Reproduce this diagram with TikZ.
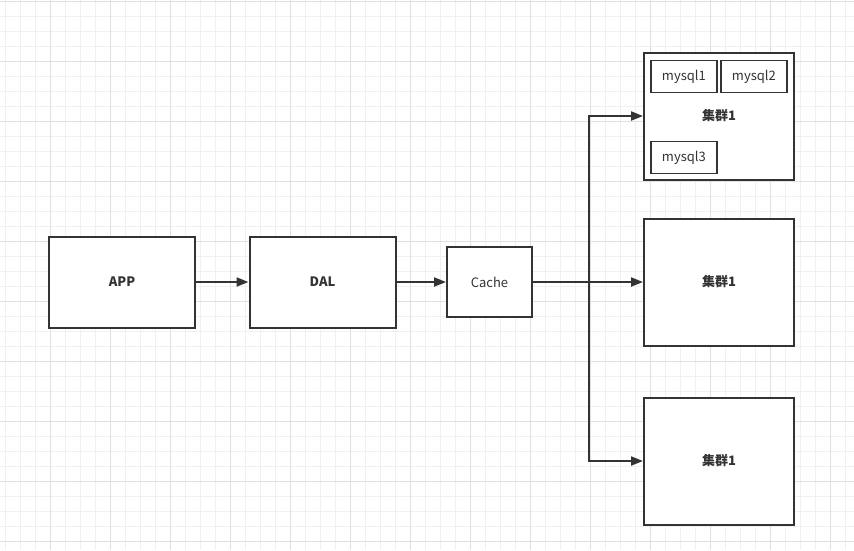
\documentclass[tikz,border=0pt]{standalone}
\usepackage{fontspec}
\setmainfont{Noto Sans CJK SC}
\usetikzlibrary{positioning,arrows.meta}
\definecolor{linegray}{HTML}{333333}
\definecolor{gridminor}{HTML}{F0F0F0}
\definecolor{gridmajor}{HTML}{E0E0E0}
\tikzset{
  box/.style={draw=linegray, line width=2pt, fill=white, text=linegray,
    font=\bfseries\fontsize{13}{15}\selectfont}, % the big boxes
  plainbox/.style={draw=linegray, line width=2pt, fill=white, text=linegray,
    font=\fontsize{13}{15}\selectfont},
  dbbox/.style={plainbox, line width=1.8pt, minimum width=66pt, minimum height=32pt},
  link/.style={draw=linegray, line width=2pt, -{Triangle[length=12pt,width=9pt]}},
}

\begin{document}
\begin{tikzpicture}[x=1pt,y=-1pt,on grid,auto]
    \useasboundingbox (0,0) rectangle (854,550);
    % background grid
    \foreach \gx in {5,20,...,850} \draw[gridminor, line width=0.8pt] (\gx,0) -- (\gx,550);
    \foreach \gy in {1,16,...,550} \draw[gridminor, line width=0.8pt] (0,\gy) -- (854,\gy);
    \foreach \gx in {50,110,...,850} \draw[gridmajor, line width=0.8pt] (\gx,0) -- (\gx,550);
    \foreach \gy in {1,61,...,550} \draw[gridmajor, line width=0.8pt] (0,\gy) -- (854,\gy);

    \node[box, minimum width=146pt, minimum height=91pt] (app) at (122,282) {APP};
    \node[box, minimum width=146pt, minimum height=91pt] (dal) [right=200.5pt of app] {DAL};
    \node[plainbox, minimum width=85pt, minimum height=70pt] (cache) [right=167pt of dal] {Cache};
    \node[box, minimum width=150pt, minimum height=127pt] (c2) [right=229.5pt of cache] {集群1};
    \node[box, minimum width=150pt, minimum height=127pt] (c1) [above=166pt of c2] {集群1};
    \node[box, minimum width=150pt, minimum height=127pt] (c3) [below=179pt of c2] {集群1};
    \node[dbbox, anchor=north west] (m1) at ([shift={(7,8)}]c1.north west) {mysql1};
    \node[dbbox] (m2) [right=70pt of m1] {mysql2};
    \node[dbbox] (m3) [below=81pt of m1] {mysql3};
    \coordinate[right=56pt of cache.east] (split);

    \draw[link] (app) -- (dal);
    \draw[link] (dal) -- (cache);
    \draw[link] (cache.east) -- (cache.east -| c2.west);
    \draw[link] (split) |- (c1.west);
    \draw[link] (split) |- (c3.west);
\end{tikzpicture}
\end{document}
